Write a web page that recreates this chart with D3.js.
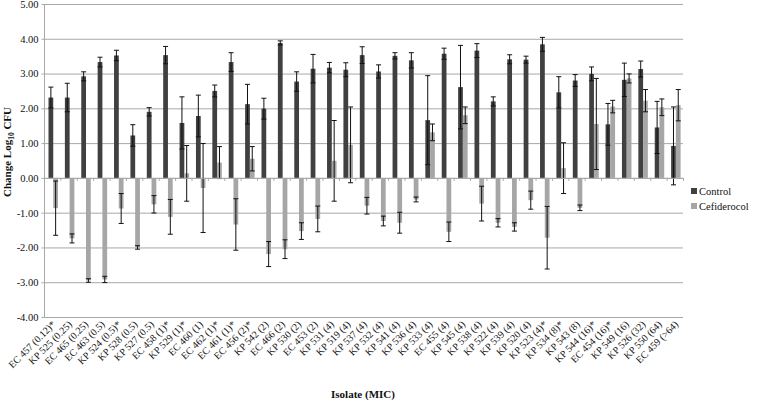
<!DOCTYPE html>
<html>
<head>
<meta charset="utf-8">
<script src="https://cdn.jsdelivr.net/npm/d3@7"></script>
<style>
  body { margin: 0; background: #fff; }
  svg text { font-family: "Liberation Serif", "DejaVu Serif", serif; }
</style>
</head>
<body>
<script>
// isolates (MIC), in the plotted order
const isolates = [
  "EC 457 (0.12)*", "KP 525 (0.25)", "EC 465 (0.25)", "EC 463 (0.5)", "KP 524 (0.5)*",
  "KP 528 (0.5)", "KP 527 (0.5)", "EC 458 (1)*", "KP 529 (1)*", "EC 460 (1)",
  "EC 462 (1)*", "EC 461 (1)*", "EC 456 (2)*", "KP 542 (2)", "EC 466 (2)",
  "KP 530 (2)", "EC 453 (2)", "KP 531 (4)", "KP 519 (4)", "KP 537 (4)",
  "KP 532 (4)", "KP 541 (4)", "KP 536 (4)", "KP 533 (4)", "EC 455 (4)",
  "KP 545 (4)", "KP 538 (4)", "KP 522 (4)", "KP 539 (4)", "KP 520 (4)",
  "KP 523 (4)*", "KP 534 (8)*", "KP 543 (8)", "KP 544 (16)*", "EC 454 (16)*",
  "KP 549 (16)", "KP 526 (32)", "KP 550 (64)", "EC 459 (>64)"
];

const series = ["Control", "Cefiderocol"];

// change in log10 CFU
const controlMean = [
  2.31, 2.31, 2.92, 3.33, 3.52, 1.22, 1.90, 3.53, 1.58, 1.78,
  2.50, 3.33, 2.12, 1.99, 3.88, 2.77, 3.14, 3.17, 3.11, 3.53,
  3.06, 3.51, 3.38, 1.66, 3.57, 2.61, 3.66, 2.20, 3.41, 3.40,
  3.84, 2.46, 2.80, 2.99, 1.54, 2.82, 3.13, 1.45, 0.92
];
const controlErr = [
  0.30, 0.41, 0.13, 0.14, 0.15, 0.31, 0.12, 0.25, 0.75, 0.60,
  0.17, 0.27, 0.57, 0.30, 0.06, 0.28, 0.41, 0.15, 0.20, 0.24,
  0.19, 0.09, 0.22, 1.28, 0.16, 1.20, 0.20, 0.13, 0.13, 0.10,
  0.20, 0.45, 0.17, 0.20, 0.60, 0.48, 0.23, 0.75, 1.12
];
const cefMean = [
  -0.87, -1.74, -2.95, -2.92, -0.88, -2.00, -0.76, -1.12, 0.13, -0.29,
  0.44, -1.34, 0.55, -2.19, -2.05, -1.53, -1.18, 0.49, 0.95, -0.80,
  -1.24, -1.29, -0.62, 1.31, -1.55, 1.80, -0.74, -1.29, -1.41, -0.64,
  -1.72, 0.28, -0.86, 1.55, 2.05, 2.86, 2.22, 2.03, 2.09
];
const cefErr = [
  0.78, 0.13, 0.05, 0.09, 0.43, 0.05, 0.25, 0.50, 0.80, 1.28,
  0.46, 0.74, 0.35, 0.36, 0.27, 0.24, 0.37, 1.16, 1.09, 0.24,
  0.14, 0.30, 0.07, 0.24, 0.28, 0.24, 0.50, 0.12, 0.12, 0.26,
  0.90, 0.73, 0.08, 1.31, 0.18, 0.13, 0.32, 0.24, 0.45
];

const yTicks = [5, 4, 3, 2, 1, 0, -1, -2, -3, -4];

const width = 760;
const height = 404;
const serif = "Liberation Serif, DejaVu Serif, serif";
const colors = { Control: "#404040", Cefiderocol: "#a6a6a6" };

const rows = isolates.map((name, i) => ({
  name,
  values: [
    { key: "Control", mean: controlMean[i], err: controlErr[i] },
    { key: "Cefiderocol", mean: cefMean[i], err: cefErr[i] }
  ]
}));

const svg = d3.select("body").append("svg")
  .attr("width", width)
  .attr("height", height)
  .attr("font-family", serif);

// plot area
const plotLeft = 44, plotRight = 683, plotTop = 4, plotBottom = 317;

const y = d3.scaleLinear().domain([-4, 5]).range([plotBottom, plotTop]);
const x0 = d3.scaleBand().domain(isolates).range([plotLeft, plotRight]);
const x1 = d3.scaleBand().domain(series).range([4.5, 14]);

// gridlines
svg.append("g")
  .selectAll("line")
  .data(yTicks)
  .join("line")
  .attr("x1", plotLeft)
  .attr("x2", plotRight)
  .attr("y1", d => y(d) + 0.5)
  .attr("y2", d => y(d) + 0.5)
  .attr("stroke", "#a8a8a8")
  .attr("stroke-width", 1);

// y axis
const yAxis = svg.append("g")
  .attr("transform", `translate(${plotLeft + 0.5},0)`)
  .call(d3.axisLeft(y).tickValues(yTicks).tickFormat(d3.format(".2f")).tickSize(3).tickPadding(3));
yAxis.attr("font-family", serif);
yAxis.select(".domain").attr("stroke", "#a8a8a8").attr("d", `M0,${plotTop}V${plotBottom + 0.5}`);
yAxis.selectAll(".tick line").attr("stroke", "#a8a8a8");
yAxis.selectAll(".tick text")
  .attr("font-size", 10.5)
  .attr("fill", "#111")
  .text(d => d3.format(".2f")(d).replace("−", "-"));

// bars
const groups = svg.append("g")
  .selectAll("g")
  .data(rows)
  .join("g")
  .attr("transform", d => `translate(${x0(d.name)},0)`);

groups.selectAll("rect")
  .data(d => d.values)
  .join("rect")
  .attr("x", d => x1(d.key))
  .attr("width", x1.bandwidth())
  .attr("y", d => y(Math.max(0, d.mean)))
  .attr("height", d => Math.abs(y(d.mean) - y(0)))
  .attr("fill", d => colors[d.key]);

// x axis line at zero and small ticks between categories
svg.append("line")
  .attr("x1", plotLeft)
  .attr("x2", plotRight)
  .attr("y1", y(0) + 0.5)
  .attr("y2", y(0) + 0.5)
  .attr("stroke", "#a8a8a8");

svg.append("g")
  .selectAll("line")
  .data(isolates)
  .join("line")
  .attr("x1", d => x0(d) + x0.bandwidth() + 0.5)
  .attr("x2", d => x0(d) + x0.bandwidth() + 0.5)
  .attr("y1", y(0))
  .attr("y2", y(0) + 3)
  .attr("stroke", "#a8a8a8");

// error bars
const err = groups.selectAll("g.err")
  .data(d => d.values)
  .join("g")
  .attr("class", "err")
  .attr("stroke", "#111")
  .attr("stroke-width", 1);

const cx = d => x1(d.key) + x1.bandwidth() / 2;

err.append("line")
  .attr("x1", cx).attr("x2", cx)
  .attr("y1", d => y(d.mean + d.err))
  .attr("y2", d => y(d.mean - d.err));
err.append("line")
  .attr("x1", d => cx(d) - 2.5).attr("x2", d => cx(d) + 2.5)
  .attr("y1", d => y(d.mean + d.err))
  .attr("y2", d => y(d.mean + d.err));
err.append("line")
  .attr("x1", d => cx(d) - 2.5).attr("x2", d => cx(d) + 2.5)
  .attr("y1", d => y(d.mean - d.err))
  .attr("y2", d => y(d.mean - d.err));

// category labels, rotated
svg.append("g")
  .selectAll("text")
  .data(isolates)
  .join("text")
  .attr("transform", d => `translate(${x0(d) + x0.bandwidth() / 2 + 4},${plotBottom + 8}) rotate(-45)`)
  .attr("text-anchor", "end")
  .attr("font-size", 10)
  .attr("fill", "#111")
  .text(d => d);

// axis titles
svg.append("text")
  .attr("x", 363)
  .attr("y", 398)
  .attr("text-anchor", "middle")
  .attr("font-size", 11)
  .attr("font-weight", "bold")
  .attr("fill", "#111")
  .text("Isolate (MIC)");

const yTitle = svg.append("text")
  .attr("transform", "translate(11,152) rotate(-90)")
  .attr("text-anchor", "middle")
  .attr("font-size", 11)
  .attr("font-weight", "bold")
  .attr("fill", "#111");
yTitle.append("tspan").text("Change Log");
yTitle.append("tspan").attr("font-size", 7.5).attr("dy", 3).text("10");
yTitle.append("tspan").attr("dy", -3).text(" CFU");

// legend
const legend = svg.append("g")
  .selectAll("g")
  .data(series)
  .join("g")
  .attr("transform", (d, i) => `translate(691,${195 + i * 15})`);
legend.append("rect")
  .attr("x", 0).attr("y", -7)
  .attr("width", 6).attr("height", 6)
  .attr("fill", d => colors[d]);
legend.append("text")
  .attr("x", 8)
  .attr("y", 0)
  .attr("font-size", 10.5)
  .attr("fill", "#111")
  .text(d => d);
</script>
</body>
</html>
